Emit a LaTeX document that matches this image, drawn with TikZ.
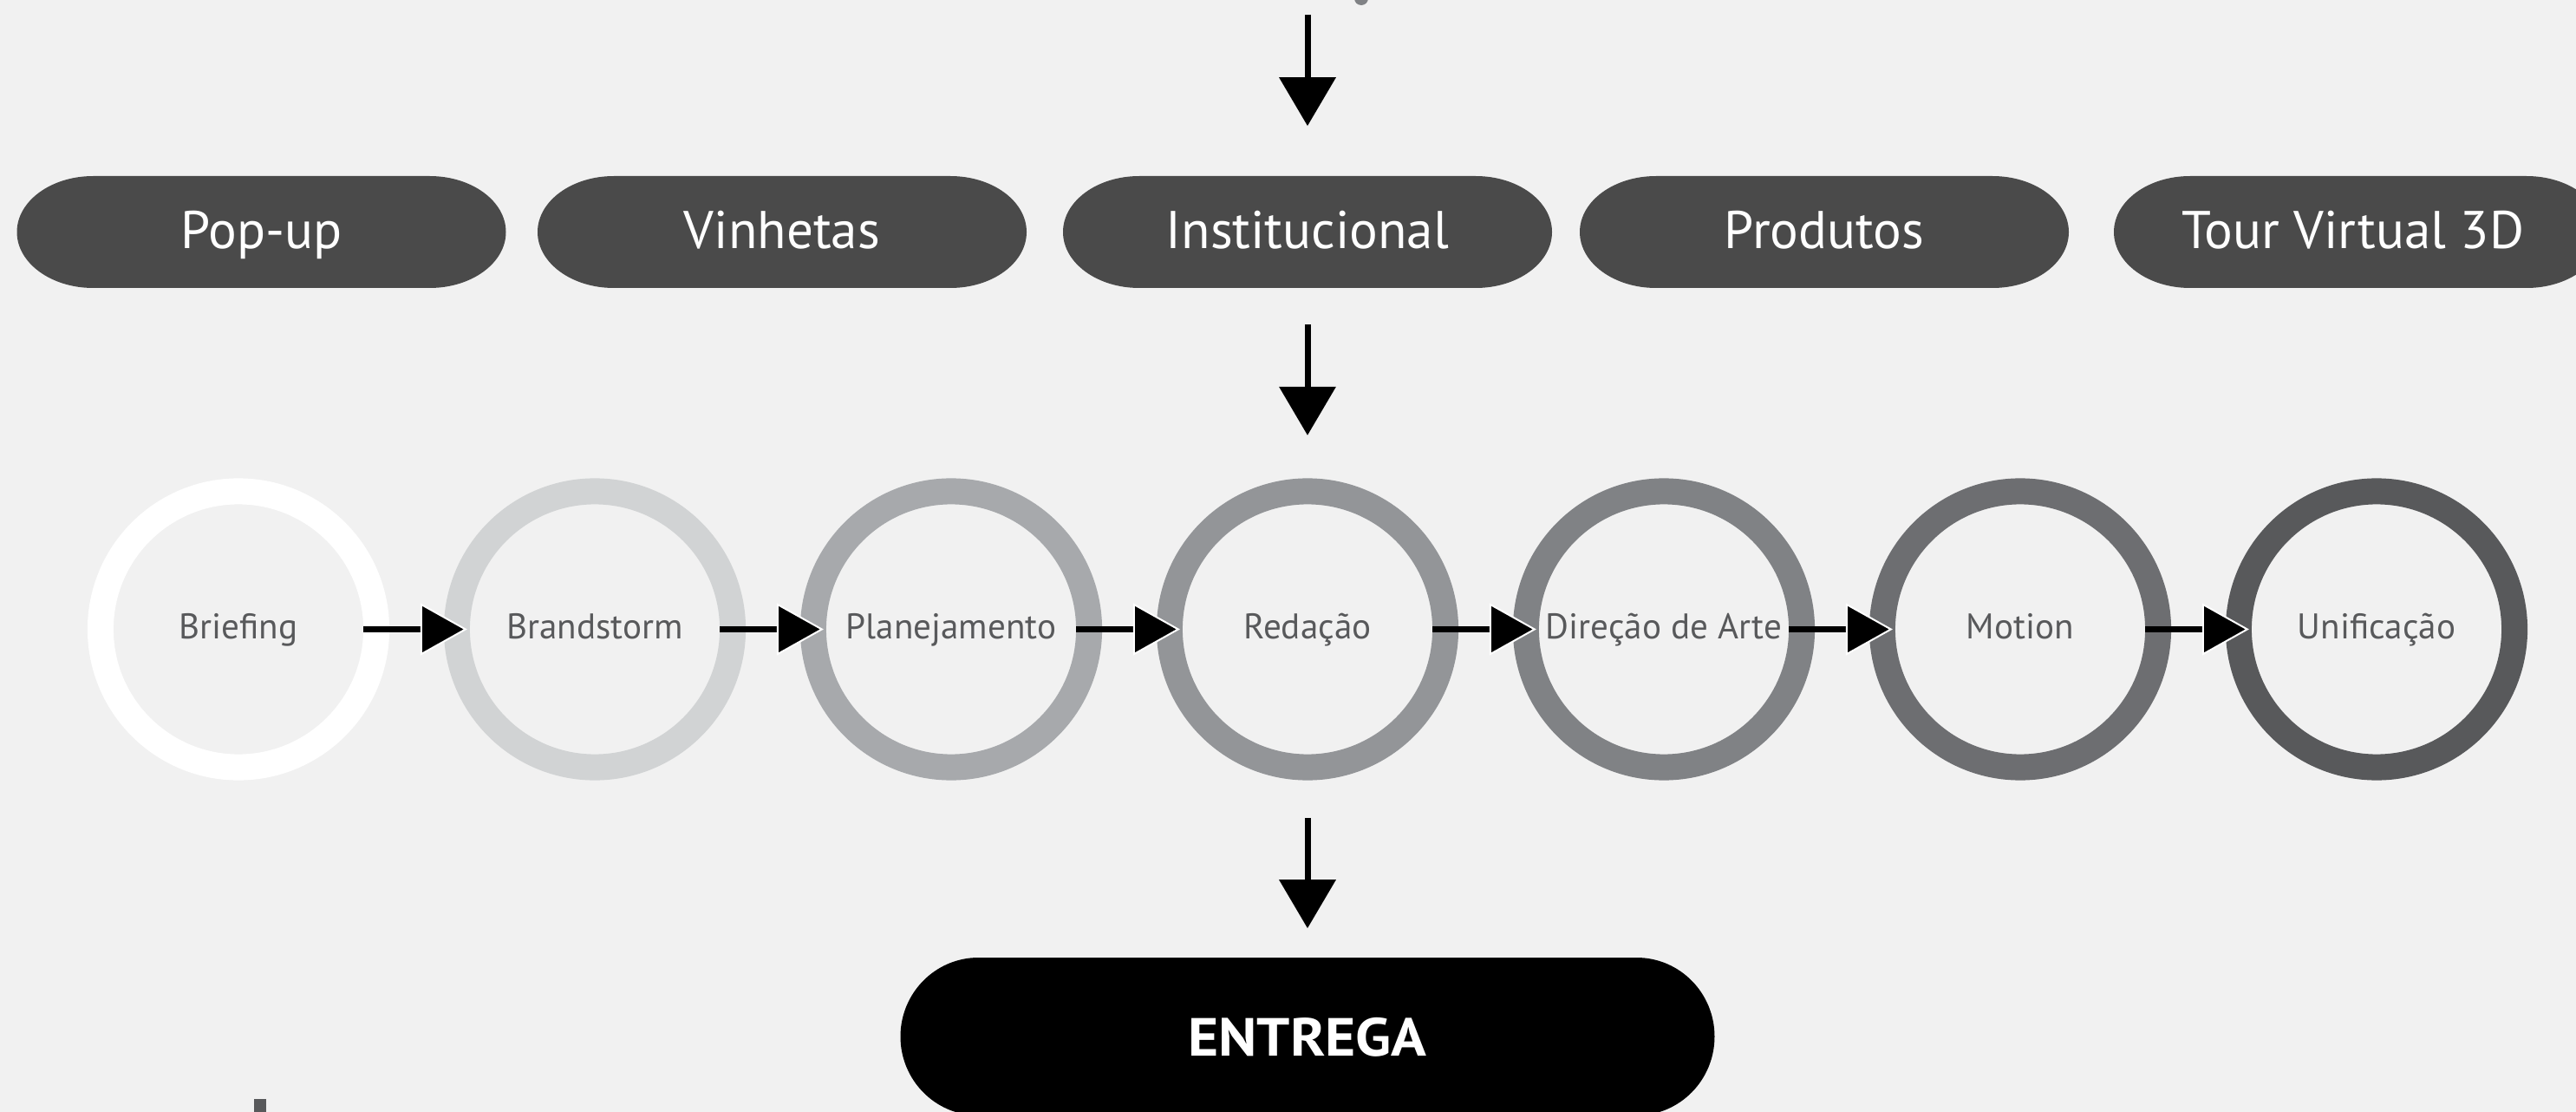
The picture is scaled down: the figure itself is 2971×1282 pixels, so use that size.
\documentclass[tikz,border=0pt]{standalone}
\usepackage{fontspec}
\setmainfont{PT Sans}
\newfontfamily\widebold[FakeStretch=1.09]{PT Sans Bold}
\usetikzlibrary{arrows.meta}
\definecolor{bg}{HTML}{F1F1F1}
\definecolor{pillc}{HTML}{4A4A4A}
\definecolor{txtc}{HTML}{58595B}
\definecolor{rA}{HTML}{FFFFFF}
\definecolor{rB}{HTML}{D1D3D4}
\definecolor{rC}{HTML}{A7A9AC}
\definecolor{rD}{HTML}{939598}
\definecolor{rE}{HTML}{808285}
\definecolor{rF}{HTML}{6D6E71}
\definecolor{rG}{HTML}{58595B}
% #1 x, #2 y, #3 half width, #4 half height, #5 end radius x, #6 colour
\newcommand\pillfill[6]{%
  \fill[#6] ({#1-#3+#5},{#2-#4}) -- ({#1+#3-#5},{#2-#4})
    arc[start angle=90,end angle=-90,x radius=#5*0.01cm,y radius=#4*0.01cm]
    -- ({#1-#3+#5},{#2+#4})
    arc[start angle=270,end angle=90,x radius=#5*0.01cm,y radius=#4*0.01cm] -- cycle;}
\begin{document}
\begin{tikzpicture}[x=0.01cm,y=-0.01cm,
  ring/.style={circle, draw=#1, line width=0.30cm, minimum size=3.18cm,
    inner sep=0pt, outer sep=0pt, text=txtc, text height=0.29cm, text depth=0.07cm,
    font=\fontsize{11.7pt}{14pt}\selectfont},
  pilltext/.style={minimum width=5.64cm, minimum height=1.29cm, inner sep=0pt,
    text=white, text height=0.43cm, text depth=0.06cm,
    font=\fontsize{17.4pt}{20pt}\selectfont},
  endtext/.style={minimum width=9.39cm, minimum height=1.82cm, inner sep=0pt,
    text=white, text height=0.43cm, text depth=0cm,
    font=\widebold\fontsize{17.6pt}{20pt}\selectfont},
  harrow/.style={line width=0.07cm,
    -{Triangle[length=0.54cm,width=0.60cm,line width=0.02cm,color=white,fill=black]},
    shorten <=1.44cm, shorten >=1.47cm},
  varrow/.style={line width=0.07cm, -{Triangle[length=0.56cm,width=0.64cm]}},
]
\clip (0,0) rectangle (2971,1282);
\fill[bg] (0,0) rectangle (2971,1282);

% fragments cut by the frame
\fill[rE] (1570,-2) circle[radius=0.08cm];
\fill[txtc] (293,1267) rectangle (307,1282);

% pills
\pillfill{301.5}{267.5}{282}{64.5}{88}{pillc}
\pillfill{902}{267.5}{282}{64.5}{88}{pillc}
\pillfill{1508}{267.5}{282}{64.5}{88}{pillc}
\pillfill{2104}{267.5}{282}{64.5}{88}{pillc}
\pillfill{2720}{267.5}{282}{64.5}{88}{pillc}
\node[pilltext] (p1) at (301.5,267.5) {Pop-up};
\node[pilltext] (p2) at (902,267.5) {Vinhetas};
\node[pilltext] (p3) at (1508,267.5) {Institucional};
\node[pilltext] (p4) at (2104,267.5) {Produtos};
\node[pilltext] (p5) at (2714,267.5) {Tour Virtual 3D};

% circles
\node[ring=rA] (c1) at (275,725.5) {Briefing};
\node[ring=rB] (c2) at (686,725.5) {Brandstorm};
\node[ring=rC] (c3) at (1097,725.5) {Planejamento};
\node[ring=rD] (c4) at (1508,725.5) {Redação};
\node[ring=rE] (c5) at (1919,725.5) {Direção de Arte};
\node[ring=rF] (c6) at (2330,725.5) {Motion};
\node[ring=rG] (c7) at (2741,725.5) {Unificação};

% delivery
\pillfill{1508}{1195}{469.5}{91}{90}{black}
\node[endtext] (ent) at (1508,1196) {ENTREGA};

% connectors
\coordinate (top) at (1508,17);
\draw[varrow, shorten >=0.57cm] (top) -- (p3.north);
\draw[varrow, shorten <=0.41cm, shorten >=0.645cm] (p3.south) -- (c4.north);
\draw[varrow, shorten <=0.585cm, shorten >=0.34cm] (c4.south) -- (ent.north);
\draw[harrow] (c1.center) -- (c2.center);
\draw[harrow] (c2.center) -- (c3.center);
\draw[harrow] (c3.center) -- (c4.center);
\draw[harrow] (c4.center) -- (c5.center);
\draw[harrow] (c5.center) -- (c6.center);
\draw[harrow] (c6.center) -- (c7.center);
\end{tikzpicture}
\end{document}
